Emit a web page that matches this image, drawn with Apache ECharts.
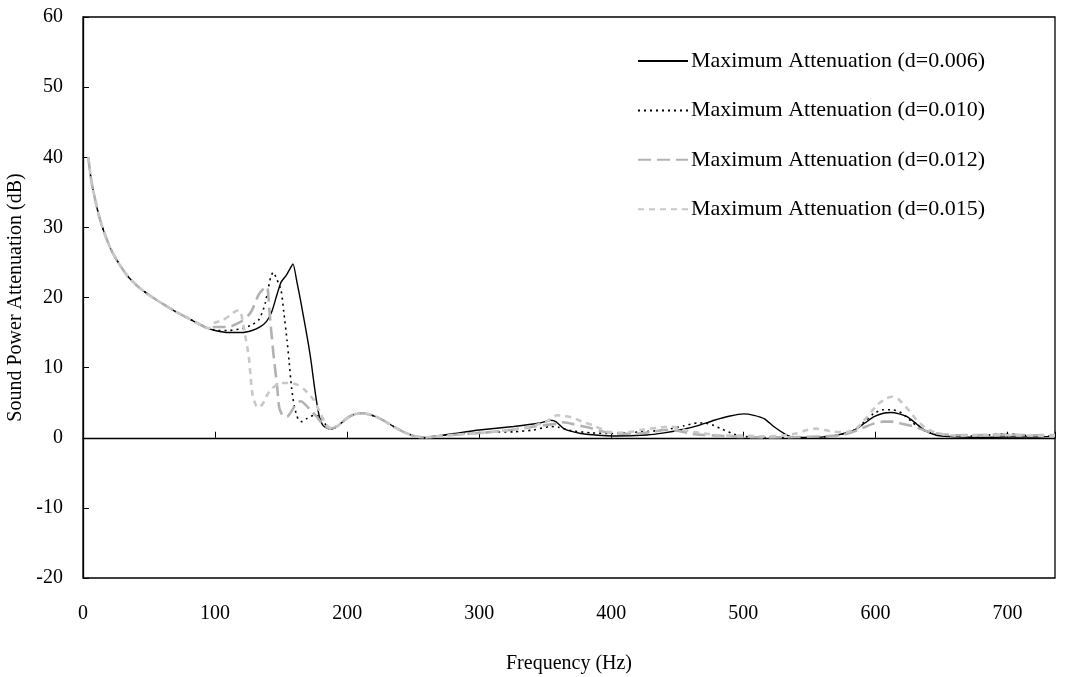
<!DOCTYPE html>
<html>
<head>
<meta charset="utf-8">
<script src="https://cdn.jsdelivr.net/npm/echarts@6/dist/echarts.min.js"></script>
<style>
  html, body { margin: 0; padding: 0; background: #fff; }
  #chart { width: 1067px; height: 677px; }
</style>
</head>
<body>
<div id="chart"></div>
<script>
// shared low-frequency part (all four curves coincide)
var headFreq = [4, 6, 8, 12, 16, 21, 27, 34, 42, 52, 62, 70, 78, 87, 95];
var headAtt = [40, 37.0, 35.0, 31.7, 29.3, 26.9, 24.9, 23.0, 21.5, 20.1, 18.9, 18.0, 17.2, 16.3, 15.6];

// d=0.006
var freq006 = [100, 110, 120, 128, 134, 139, 143, 147, 150, 154, 157, 159, 162, 165, 168, 171, 173, 175, 177, 179, 182, 187,
  193, 200, 205, 211, 217, 223, 230, 236, 243, 250, 258, 270, 281, 300, 326, 346, 354, 358, 364, 370, 377, 390, 402, 427,
  440, 452, 465, 478, 490, 500, 508, 516, 523, 531, 538, 550, 566, 576, 584, 592, 599, 606, 612, 618, 624, 631, 637, 644,
  650, 665, 680, 700, 720, 736];
var att006 = [15.3, 15.0, 15.0, 15.3, 15.8, 16.6, 18.0, 20.5, 22.2, 23.2, 24.2, 24.8, 22.2, 19.3, 16.2, 13.0, 10.5, 7.6, 5.0, 3.0, 1.7, 1.2,
  1.7, 2.8, 3.3, 3.5, 3.3, 2.9, 2.2, 1.5, 0.8, 0.3, 0.05, 0.3, 0.6, 1.1, 1.6, 2.1, 2.5, 2.3, 1.3, 0.9, 0.6, 0.35, 0.25, 0.4,
  0.7, 1.1, 1.7, 2.5, 3.1, 3.4, 3.2, 2.7, 1.6, 0.6, 0.05, 0.05, 0.2, 0.6, 1.1, 2.1, 3.0, 3.5, 3.6, 3.4, 3.0, 2.0, 1.1, 0.5,
  0.25, 0.1, 0.05, 0.1, 0.1, 0.2];

// d=0.010
var freq010 = [101, 110, 121, 128, 133, 136, 138, 140, 142, 144, 147, 150, 152, 154.5, 156, 158, 160, 163, 166, 170, 175, 180, 184, 188,
  193, 200, 205, 211, 217, 223, 230, 236, 243, 250, 258, 270, 290, 310, 326, 341, 354, 360, 370, 385, 400, 420, 440, 455,
  465, 471, 477, 483, 493, 500, 510, 530, 550, 570, 585, 599, 606, 613, 620, 628, 635, 645, 660, 680, 700, 710, 720, 736];
var att010 = [15.3, 15.3, 15.6, 16.1, 16.8, 18.0, 19.2, 21.0, 22.8, 23.6, 22.5, 21.0, 18.0, 13.9, 11.0, 7.0, 4.5, 2.6, 2.3, 2.8, 3.2, 3.0, 1.8, 1.2,
  1.7, 2.8, 3.3, 3.5, 3.3, 2.9, 2.2, 1.5, 0.8, 0.3, 0.05, 0.3, 0.6, 0.8, 0.85, 1.1, 1.6, 1.5, 1.0, 0.7, 0.6, 0.8, 1.1, 1.7,
  2.1, 2.1, 1.8, 1.3, 0.5, 0.2, 0.05, 0.0, 0.05, 0.3, 1.2, 3.5, 4.0, 4.0, 3.5, 2.2, 1.2, 0.5, 0.2, 0.3, 0.6, 0.4, 0.2, 0.3];

// d=0.012
var freq012 = [100, 110, 120, 125, 128, 133, 137, 139.5, 141, 142, 144.4, 147, 148.5, 151, 154.5, 158, 162, 165, 168, 172, 177, 182, 187,
  193, 200, 205, 211, 217, 223, 230, 236, 243, 250, 258, 280, 311, 336, 341, 359, 364, 372, 382, 394, 405, 418, 430, 440,
  450, 460, 470, 485, 500, 520, 540, 560, 575, 588, 599, 606, 612, 620, 629, 638, 647, 660, 680, 700, 720, 736];
var att012 = [15.8, 15.8, 16.6, 17.4, 18.2, 20.4, 21.3, 21.5, 18.5, 16.3, 11.6, 7.3, 4.4, 3.2, 3.0, 3.8, 5.0, 5.2, 4.8, 4.0, 3.0, 1.8, 1.3,
  1.7, 2.8, 3.3, 3.5, 3.3, 2.9, 2.2, 1.5, 0.8, 0.3, 0.05, 0.4, 0.85, 1.4, 1.6, 2.0, 2.2, 1.9, 1.5, 0.85, 0.6, 0.55, 0.8, 1.1,
  1.0, 0.6, 0.4, 0.25, 0.1, 0.05, 0.1, 0.2, 0.4, 1.2, 2.05, 2.3, 2.3, 2.0, 1.6, 1.0, 0.6, 0.35, 0.4, 0.45, 0.35, 0.4];

// d=0.015
var freq015 = [100, 106, 111, 115, 118, 120, 121.5, 123, 125.5, 127, 128.5, 131, 133, 136, 139.4, 143, 149.5, 157, 163, 168, 174.7, 179.8, 184, 188,
  193, 200, 205, 211, 217, 223, 230, 236, 243, 250, 258, 280, 311, 336, 350, 359, 365, 371.7, 378, 385.6, 397, 405, 414.6,
  422, 435, 445, 452, 460, 470, 480, 490, 500, 515, 530, 540, 548, 555, 562, 569, 578, 586, 594, 601.5, 608, 613, 618, 624,
  631, 638, 646, 660, 680, 700, 720, 736];
var att015 = [16.4, 16.8, 17.4, 18.0, 18.2, 17.5, 16.0, 14.4, 11.6, 8.5, 6.0, 4.6, 4.3, 4.8, 6.1, 7.0, 7.8, 7.8, 7.5, 6.8, 5.4, 3.5, 1.9, 1.3,
  1.7, 2.8, 3.3, 3.5, 3.3, 2.9, 2.2, 1.5, 0.8, 0.3, 0.05, 0.4, 0.85, 1.5, 2.2, 3.2, 3.1, 2.8, 2.3, 1.8, 0.9, 0.7, 0.85,
  1.1, 1.4, 1.6, 1.3, 0.9, 0.6, 0.4, 0.3, 0.3, 0.2, 0.3, 0.6, 1.1, 1.3, 1.1, 0.85, 0.8, 1.4, 3.0, 4.7, 5.6, 5.85, 5.4, 4.2,
  2.6, 1.4, 0.7, 0.3, 0.35, 0.35, 0.3, 0.3];

var xTicks = [0, 100, 200, 300, 400, 500, 600, 700];
var yTicks = [-20, -10, 0, 10, 20, 30, 40, 50, 60];

function pairs(fx, fy) {
  var out = [];
  for (var i = 0; i < fx.length; i++) out.push([fx[i], fy[i]]);
  return out;
}

var font = '"Liberation Serif", "Times New Roman", serif';
var chart = echarts.init(document.getElementById('chart'));

var option = {
  animation: false,
  textStyle: { fontFamily: font },
  grid: {
    left: 83, right: 12, top: 17, bottom: 99,
    outerBoundsMode: 'none',
    containLabel: false,
    show: true, borderColor: '#000', borderWidth: 1.3
  },
  legend: {
    orient: 'vertical',
    left: 637,
    top: 50,
    padding: 0,
    itemWidth: 50,
    itemHeight: 14,
    itemGap: 27.4,
    itemStyle: { opacity: 0 },
    textStyle: { fontFamily: font, fontSize: 22, color: '#000', lineHeight: 22, padding: [0, 0, 0, -2] },
    data: ['Maximum Attenuation (d=0.006)', 'Maximum Attenuation (d=0.010)',
      'Maximum Attenuation (d=0.012)', 'Maximum Attenuation (d=0.015)']
  },
  xAxis: [{
    type: 'value',
    min: 0, max: 736, interval: 100,
    axisLine: { onZero: true, lineStyle: { color: '#000', width: 1.3 } },
    axisTick: { inside: true, length: 6, lineStyle: { color: '#000' } },
    axisLabel: { show: false },
    splitLine: { show: false }
  }, {
    type: 'value',
    min: 0, max: 736, interval: 100,
    position: 'bottom',
    axisLine: { show: false, onZero: false },
    axisTick: { show: false },
    axisLabel: {
      margin: 26, fontSize: 20, color: '#000', fontFamily: font, showMaxLabel: false,
      formatter: function (v) { return xTicks.indexOf(v) >= 0 ? String(v) : ''; }
    },
    splitLine: { show: false },
    name: 'Frequency (Hz)',
    nameLocation: 'middle',
    nameGap: 76,
    nameTextStyle: { fontSize: 20, color: '#000', fontFamily: font }
  }],
  yAxis: {
    type: 'value',
    min: yTicks[0], max: yTicks[yTicks.length - 1], interval: 10,
    axisLine: { show: true, lineStyle: { color: '#000', width: 1.3 } },
    axisTick: { show: true, inside: true, length: 6, lineStyle: { color: '#000' } },
    axisLabel: { margin: 20, fontSize: 20, color: '#000', fontFamily: font },
    splitLine: { show: false },
    name: 'Sound Power Attenuation (dB)',
    nameLocation: 'middle',
    nameGap: 54,
    nameTextStyle: { fontSize: 20, color: '#000', fontFamily: font }
  },
  series: [{
    name: 'Maximum Attenuation (d=0.006)',
    type: 'line', symbol: 'none', smooth: 0.2,
    lineStyle: { color: '#000', width: 1.4, type: 'solid' },
    itemStyle: { color: '#000' },
    data: pairs(headFreq.concat(freq006), headAtt.concat(att006)),
    z: 1
  }, {
    name: 'Maximum Attenuation (d=0.010)',
    type: 'line', symbol: 'none', smooth: 0.2,
    lineStyle: { color: '#000', width: 1.6, type: [2, 4] },
    itemStyle: { color: '#000' },
    data: pairs(headFreq.concat(freq010), headAtt.concat(att010)),
    z: 2
  }, {
    name: 'Maximum Attenuation (d=0.012)',
    type: 'line', symbol: 'none', smooth: 0.2,
    lineStyle: { color: '#b2b2b2', width: 2.6, type: [13, 6] },
    itemStyle: { color: '#b2b2b2' },
    data: pairs(headFreq.concat(freq012), headAtt.concat(att012)),
    z: 3
  }, {
    name: 'Maximum Attenuation (d=0.015)',
    type: 'line', symbol: 'none', smooth: 0.2,
    lineStyle: { color: '#c8c8c8', width: 2.6, type: [6, 5] },
    itemStyle: { color: '#c8c8c8' },
    data: pairs(headFreq.concat(freq015), headAtt.concat(att015)),
    z: 4
  }]
};

chart.setOption(option);
</script>
</body>
</html>
